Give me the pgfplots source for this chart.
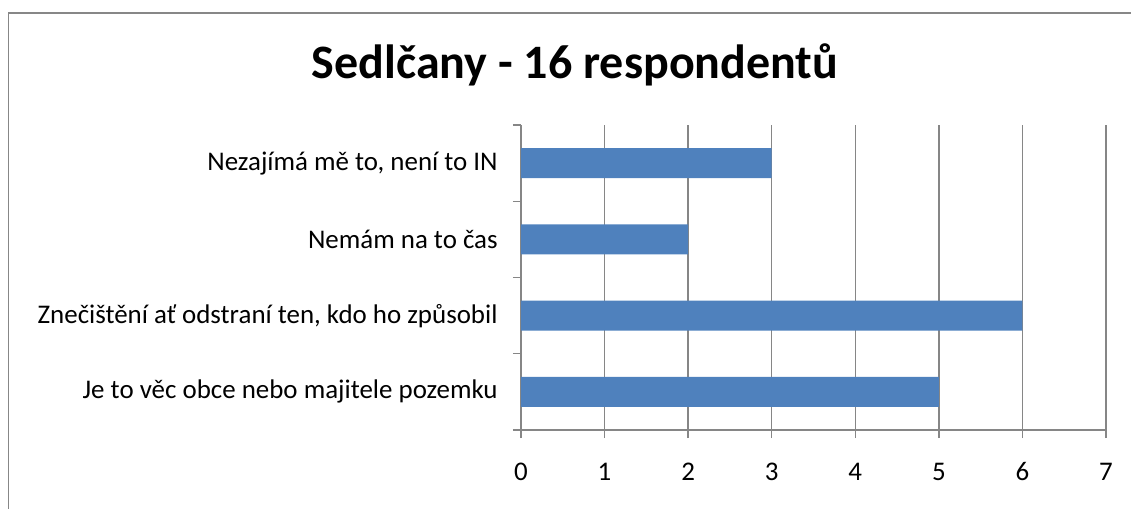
\documentclass[border=0pt]{standalone}
\usepackage{fontspec}
\setmainfont{Carlito}
\usepackage{pgfplots}
\pgfplotsset{compat=1.18}
\definecolor{barblue}{RGB}{79,129,189}
\definecolor{gridgray}{RGB}{134,134,134}
\definecolor{framegray}{RGB}{135,135,135}
\begin{document}
\begin{tikzpicture}[x=0.75pt,y=0.75pt]
\useasboundingbox (0,0) rectangle (1131,508);
\draw[framegray, line width=1.3pt] (8.5,-10) -- (8.5,495) -- (1160,495);
\node[font=\fontsize{36}{40}\selectfont\bfseries, anchor=base] at (575,508-79) {Sedlčany - 16 respondentů};
\coordinate (A) at (521,78);
\begin{axis}[
  at={(A)}, anchor=south west,
  scale only axis,
  width=438.75pt, height=228.75pt,
  xmin=0, xmax=7, ymin=0.5, ymax=4.5,
  xbar, bar width=0.393, bar shift=0pt,
  axis lines*=left,
  axis line style={gridgray, line width=1pt},
  xmajorgrids, grid style={gridgray, line width=1pt},
  xtick={0,...,7},
  ytick={0.5,1.5,2.5,3.5,4.5},
  yticklabels={},
  extra y ticks={1,2,3,4},
  extra y tick labels={Je to věc obce nebo majitele pozemku, {Znečištění ať odstraní ten, kdo ho způsobil}, Nemám na to čas, {Nezajímá mě to, není to IN}},
  extra y tick style={tick style={draw=none}},
  tick align=outside, major tick length=6pt,
  tick style={gridgray, line width=1pt},
  every tick label/.append style={font=\fontsize{20.2}{24}\selectfont, text=black},
  /pgf/number format/assume math mode=true,
  xticklabel style={anchor=base, yshift=-32pt},
  yticklabel style={xshift=-8pt},
  clip=false,
]
\addplot[fill=barblue, draw=none] coordinates {(5,1) (6,2) (2,3) (3,4)};
\end{axis}
\end{tikzpicture}
\end{document}
